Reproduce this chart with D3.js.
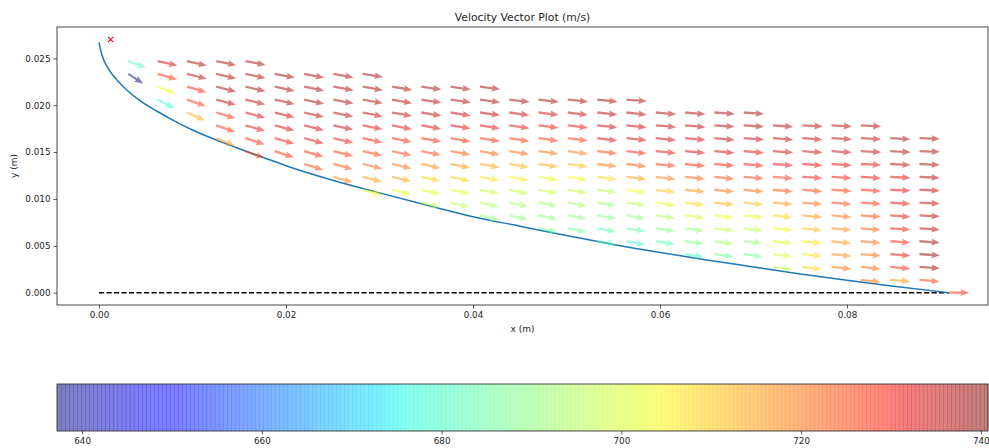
<!DOCTYPE html>
<html><head><meta charset="utf-8">
<script src="https://cdn.jsdelivr.net/npm/d3@7"></script>
<style>body{margin:0;background:#fff} text{font-family:"DejaVu Sans",sans-serif;fill:#262626}</style>
</head><body><svg id="c" width="989" height="448"></svg>
<script>
// ---------------- data ----------------
const title = "Velocity Vector Plot (m/s)";
const xLabel = "x (m)", yLabel = "y (m)";
const xTicks = [0, 0.02, 0.04, 0.06, 0.08];
const xTickLabels = ["0.00", "0.02", "0.04", "0.06", "0.08"];
const yTicks = [0, 0.005, 0.010, 0.015, 0.020, 0.025];
const yTickLabels = ["0.000", "0.005", "0.010", "0.015", "0.020", "0.025"];
const cbTicks = [640, 660, 680, 700, 720, 740];
const cbDomain = [637.2, 740.8];

// grid columns (x, m) and rows (y, m)
const colX = [0.00313, 0.00627, 0.0094, 0.01254, 0.01567, 0.0188, 0.02194, 0.02507, 0.02821, 0.03134,
  0.03447, 0.03761, 0.04074, 0.04388, 0.04701, 0.05014, 0.05328, 0.05641, 0.05955, 0.06268,
  0.06581, 0.06895, 0.07208, 0.07522, 0.07835, 0.08148, 0.08462, 0.08775, 0.09089];
const rowY = [0, 0.00137, 0.00275, 0.00412, 0.00549, 0.00687, 0.00824, 0.00961, 0.01098, 0.01236,
  0.01373, 0.0151, 0.01648, 0.01785, 0.01922, 0.0206, 0.02197, 0.02334, 0.02471];
// lowest row index with an arrow, per column
const colRowStart = [17, 15, 14, 12, 11, 11, 10, 9, 8, 8, 7, 7, 6, 6, 5, 5, 4, 4, 4, 3, 3, 3, 2, 2, 2, 1, 1, 1, 0];
// speed magnitude (m/s) per arrow, bottom to top, per column
const speeds = [
  [638, 682],
  [678, 703, 727, 733],
  [713, 726, 729, 736, 737],
  [716, 726, 727, 735, 737, 737, 737],
  [724, 729, 731, 732, 735, 737, 737, 737],
  [728, 730, 732, 734, 736, 737, 738],
  [725, 728, 731, 733, 735, 737, 737, 738],
  [719, 724, 727, 730, 733, 735, 737, 737, 738],
  [704, 716, 721, 726, 729, 732, 735, 736, 737, 738],
  [704, 715, 720, 725, 729, 732, 735, 736, 737],
  [697, 703, 709, 717, 724, 729, 732, 735, 736, 737],
  [697, 702, 709, 716, 723, 728, 732, 735, 736, 737],
  [691, 695, 699, 707, 714, 722, 728, 732, 735, 736, 737],
  [690, 693, 698, 705, 713, 721, 727, 731, 735, 737],
  [686, 690, 693, 698, 704, 713, 720, 727, 731, 734, 737],
  [686, 690, 693, 698, 704, 712, 719, 726, 731, 734, 737],
  [682, 683, 689, 692, 697, 708, 719, 726, 732, 734, 736, 737],
  [681, 684, 690, 696, 703, 715, 723, 729, 733, 735, 736, 737],
  [682, 688, 695, 702, 710, 719, 727, 731, 734, 736, 737],
  [680, 688, 692, 700, 708, 716, 723, 729, 732, 734, 736, 737],
  [685, 694, 697, 704, 713, 720, 725, 730, 733, 735, 736, 737],
  [687, 691, 697, 704, 711, 720, 726, 730, 733, 735, 736, 737],
  [698, 700, 701, 704, 709, 716, 724, 727, 731, 733, 735, 736],
  [709, 707, 707, 711, 716, 721, 725, 730, 731, 733, 735, 736],
  [720, 717, 716, 717, 720, 724, 727, 730, 731, 733, 735, 736],
  [720, 721, 721, 721, 722, 725, 727, 729, 731, 732, 734, 736, 737],
  [717, 729, 731, 729, 730, 731, 731, 732, 733, 735, 736, 737],
  [726, 739, 740.5, 738.5, 736, 735, 735, 735, 736, 737, 737, 737],
  [729]
];
// flow direction, degrees below horizontal, bottom to top, per column
const angles = [
  [33, 21],
  [27, 21, 16, 13],
  [24, 19, 16, 14, 13],
  [22, 19, 17, 15, 14, 13, 12],
  [20, 18, 16, 15, 14, 13, 12, 11],
  [18, 16, 15, 14, 13, 12, 11],
  [17, 16, 15, 14, 13, 12, 11, 11],
  [16, 15, 14, 13, 12, 12, 11, 10, 10],
  [15, 14, 14, 13, 12, 11, 11, 10, 10, 9],
  [14, 13, 13, 12, 11, 11, 10, 10, 9],
  [14, 13, 12, 12, 11, 10, 10, 9, 9, 8],
  [13, 12, 12, 11, 10, 10, 9, 9, 8, 8],
  [13, 12, 11, 11, 10, 10, 9, 9, 8, 8, 7],
  [12, 11, 11, 10, 10, 9, 9, 8, 8, 7],
  [12, 11, 10, 10, 9, 9, 8, 8, 7, 7, 7],
  [11, 10, 10, 9, 9, 8, 8, 7, 7, 7, 6],
  [10, 10, 9, 9, 8, 8, 7, 7, 7, 6, 6, 6],
  [10, 9, 9, 8, 8, 7, 7, 7, 6, 6, 6, 5],
  [9, 9, 8, 8, 7, 7, 6, 6, 6, 5, 5],
  [9, 8, 8, 7, 7, 6, 6, 6, 5, 5, 5, 5],
  [8, 8, 7, 7, 6, 6, 6, 5, 5, 5, 4, 4],
  [8, 7, 7, 6, 6, 6, 5, 5, 5, 4, 4, 4],
  [7, 7, 6, 6, 6, 5, 5, 5, 4, 4, 4, 4],
  [7, 6, 6, 6, 5, 5, 5, 4, 4, 4, 4, 3],
  [6, 6, 6, 5, 5, 5, 4, 4, 4, 4, 3, 3],
  [6, 6, 5, 5, 5, 4, 4, 4, 4, 3, 3, 3, 3],
  [5, 5, 5, 4, 4, 4, 4, 3, 3, 3, 3, 3],
  [5, 4, 4, 4, 4, 3, 3, 3, 3, 3, 2, 2],
  [0]
];
// lower wall profile
const wallX = [0, 0.0003, 0.001, 0.002, 0.003, 0.0045, 0.0063, 0.008, 0.010, 0.0125, 0.015, 0.0175, 0.020,
  0.025, 0.030, 0.035, 0.040, 0.045, 0.050, 0.055, 0.060, 0.065, 0.070, 0.075, 0.080, 0.085, 0.0909];
const wallY = [0.0267, 0.0254, 0.0239, 0.0226, 0.0216, 0.0204, 0.0193, 0.01835, 0.01735, 0.0163, 0.01535, 0.01445, 0.01355,
  0.0120, 0.01065, 0.00935, 0.0081, 0.0071, 0.0061, 0.00515, 0.0043, 0.0035, 0.00275, 0.0020, 0.00132, 0.0007, 0];
const axisLineX = [0, 0.0909];
const markerPt = [0.00125, 0.0270];

// ---------------- drawing ----------------
const svg = d3.select("#c");
const L = 57, R = 988, T = 27, B = 305;
const x = d3.scaleLinear().domain([-0.00449, 0.09508]).range([L, R]);
const y = d3.scaleLinear().domain([-0.00131, 0.02834]).range([B, T]);

function jet(t) {
  t = Math.max(0, Math.min(1, t));
  const seg = pts => {
    for (let k = 0; k < pts.length - 1; k++) {
      if (t <= pts[k + 1][0]) {
        const a = pts[k], b = pts[k + 1];
        return a[1] + (b[1] - a[1]) * (t - a[0]) / (b[0] - a[0]);
      }
    }
    return pts[pts.length - 1][1];
  };
  const r = seg([[0, 0], [0.35, 0], [0.66, 1], [0.89, 1], [1, 0.5]]);
  const g = seg([[0, 0], [0.125, 0], [0.375, 1], [0.64, 1], [0.91, 0], [1, 0]]);
  const b = seg([[0, 0.5], [0.11, 1], [0.34, 1], [0.65, 0], [1, 0]]);
  return d3.rgb(r * 255, g * 255, b * 255).toString();
}
const norm = d3.scaleLinear().domain(cbDomain).range([0, 1]);

// title
svg.append("text").attr("x", (L + R) / 2).attr("y", 21).attr("text-anchor", "middle")
  .attr("font-size", 10.8).text(title);

// axes
const gx = svg.append("g").attr("transform", `translate(0,${B})`)
  .call(d3.axisBottom(x).tickValues(xTicks).tickFormat((d, i) => xTickLabels[i]).tickSize(3.5).tickPadding(3));
const gy = svg.append("g").attr("transform", `translate(${L},0)`)
  .call(d3.axisLeft(y).tickValues(yTicks).tickFormat((d, i) => yTickLabels[i]).tickSize(3.5).tickPadding(3));
[gx, gy].forEach(g => {
  g.select(".domain").remove();
  g.selectAll("line").attr("stroke", "#333").attr("stroke-width", 0.8);
  g.selectAll("text").attr("font-size", 8.8).attr("font-family", "DejaVu Sans").attr("fill", "#262626");
});
svg.append("text").attr("x", (L + R) / 2).attr("y", 332).attr("text-anchor", "middle")
  .attr("font-size", 9).text(xLabel);
svg.append("text").attr("transform", `translate(17,${(T + B) / 2}) rotate(-90)`).attr("text-anchor", "middle")
  .attr("font-size", 9).text(yLabel);

// clip
svg.append("clipPath").attr("id", "clip").append("rect").attr("x", L).attr("y", T).attr("width", R - L).attr("height", B - T);
const plot = svg.append("g").attr("clip-path", "url(#clip)");

// dashed centre line
plot.append("line").attr("x1", x(axisLineX[0])).attr("x2", x(axisLineX[1])).attr("y1", y(0)).attr("y2", y(0))
  .attr("stroke", "#000").attr("stroke-width", 1.4).attr("stroke-dasharray", "5.2,2.3");

// wall
const wall = wallX.map((v, i) => [v, wallY[i]]);
plot.append("path").datum(wall)
  .attr("d", d3.line().x(d => x(d[0])).y(d => y(d[1])).curve(d3.curveMonotoneX))
  .attr("fill", "none").attr("stroke", "#1f77b4").attr("stroke-width", 1.5);

// arrows
const arrows = [];
colX.forEach((cx, i) => {
  speeds[i].forEach((s, k) => {
    arrows.push({ x: cx, y: rowY[colRowStart[i] + k], s: s, a: angles[i][k] });
  });
});
const pxPerUnit = 20.5 / 737;
const sw = 2.3, hw = 6.8, hl = 8.5, ha = 7.6;
function arrowPath(len) {
  return `M0,${-sw / 2}L${len - ha},${-sw / 2}L${len - hl},${-hw / 2}L${len},0L${len - hl},${hw / 2}L${len - ha},${sw / 2}L0,${sw / 2}Z`;
}
plot.selectAll("path.arrow").data(arrows).enter().append("path").attr("class", "arrow")
  .attr("d", d => arrowPath(d.s * pxPerUnit))
  .attr("transform", d => `translate(${x(d.x)},${y(d.y)}) rotate(${d.a})`)
  .attr("fill", d => jet(norm(d.s))).attr("fill-opacity", 0.5);

// marker
const mx = x(markerPt[0]), my = y(markerPt[1]), ms = 2.6;
svg.append("path").attr("d", `M${mx - ms},${my - ms}L${mx + ms},${my + ms}M${mx - ms},${my + ms}L${mx + ms},${my - ms}`)
  .attr("stroke", "red").attr("stroke-width", 1.1).attr("fill", "none");

// frame
svg.append("rect").attr("x", L).attr("y", T).attr("width", R - L).attr("height", B - T)
  .attr("fill", "none").attr("stroke", "#333").attr("stroke-width", 0.9);

// colorbar
const cT = 384, cB = 431;
const cx = d3.scaleLinear().domain(cbDomain).range([L, R]);
const nSeg = 230;
const segs = d3.range(nSeg).map(i => cbDomain[0] + (cbDomain[1] - cbDomain[0]) * i / nSeg);
const step = (R - L) / nSeg;
svg.append("g").selectAll("rect").data(segs).enter().append("rect")
  .attr("x", d => cx(d)).attr("y", cT).attr("width", step + 0.4).attr("height", cB - cT)
  .attr("fill", d => jet(norm(d + (cbDomain[1] - cbDomain[0]) / nSeg / 2))).attr("fill-opacity", 0.5);
svg.append("rect").attr("x", L).attr("y", cT).attr("width", R - L).attr("height", cB - cT)
  .attr("fill", "none").attr("stroke", "#333").attr("stroke-width", 0.9);
const gc = svg.append("g").attr("transform", `translate(0,${cB})`)
  .call(d3.axisBottom(cx).tickValues(cbTicks).tickFormat(d3.format("d")).tickSize(3.5).tickPadding(3));
gc.select(".domain").remove();
gc.selectAll("line").attr("stroke", "#333").attr("stroke-width", 0.8);
gc.selectAll("text").attr("font-size", 8.8).attr("font-family", "DejaVu Sans").attr("fill", "#262626");
</script></body></html>
